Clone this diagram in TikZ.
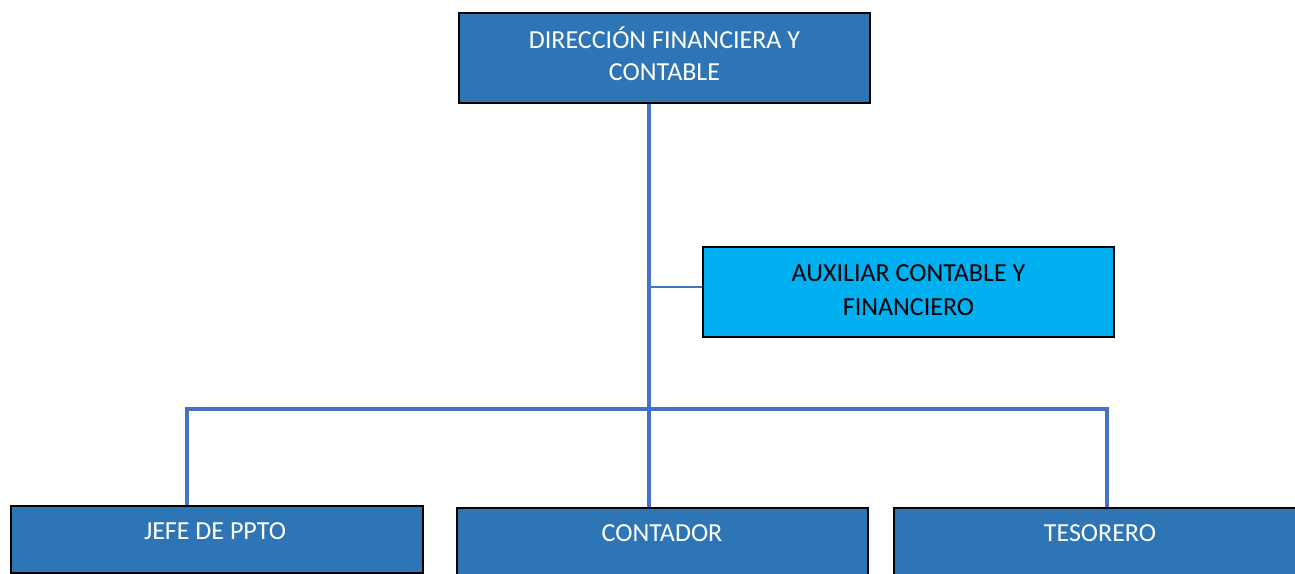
\documentclass[tikz,border=0pt]{standalone}
\usepackage{fontspec}
\setmainfont{Carlito}
\definecolor{darkbox}{HTML}{2E75B6}
\definecolor{lightbox}{HTML}{00B0F0}
\definecolor{linkc}{HTML}{4472C4}
\begin{document}
\begin{tikzpicture}[x=1bp,y=-1bp,
  box/.style={draw=black,line width=1.5bp,fill=darkbox,rectangle,inner sep=0pt},
  lbox/.style={draw=black,line width=1.5bp,fill=lightbox,rectangle,inner sep=0pt},
  wtext/.style={text=white,font=\fontsize{26bp}{32bp}\selectfont,align=center,inner sep=0pt},
  btext/.style={text=black,font=\fontsize{26bp}{34bp}\selectfont,align=center,inner sep=0pt},
  link/.style={draw=linkc,line width=3.2bp},
  thinlink/.style={draw=linkc,line width=1.8bp}]
\useasboundingbox (0,0) rectangle (1295,574);
\clip (0,0) rectangle (1295,574);
% boxes
\node[box,minimum width=411bp,minimum height=90bp] (dir) at (664.5,58) {};
\node[lbox,minimum width=411bp,minimum height=90bp] (aux) at (908.5,292) {};
\node[box,minimum width=412bp,minimum height=67bp] (jefe) at (217,539.5) {};
\node[box,minimum width=411bp,minimum height=67bp] (cont) at (662.5,541.5) {};
\node[box,minimum width=420bp,minimum height=67bp] (tes) at (1104,541.5) {};
% texts
\node[wtext] (tdir) at (664.5,54) {DIRECCIÓN FINANCIERA Y\\CONTABLE};
\node[btext] (taux) at (908.5,290.5) {AUXILIAR CONTABLE Y\\FINANCIERO};
\node[wtext] (tjefe) at (215,531) {JEFE DE PPTO};
\node[wtext] (tcont) at (662,533) {CONTADOR};
\node[wtext] (ttes) at (1100,533) {TESORERO};
% connectors
\coordinate (hub) at (649,409);
\coordinate (auxj) at (649,287);
\draw[link] (dir.south -| hub) -- (cont.north -| hub);
\draw[thinlink] (auxj) -- (aux.west |- auxj);
\draw[link] (jefe.north -| 187,0) -- (187,409) -- (1107,409) -- (tes.north -| 1107,0);
\end{tikzpicture}
\end{document}
